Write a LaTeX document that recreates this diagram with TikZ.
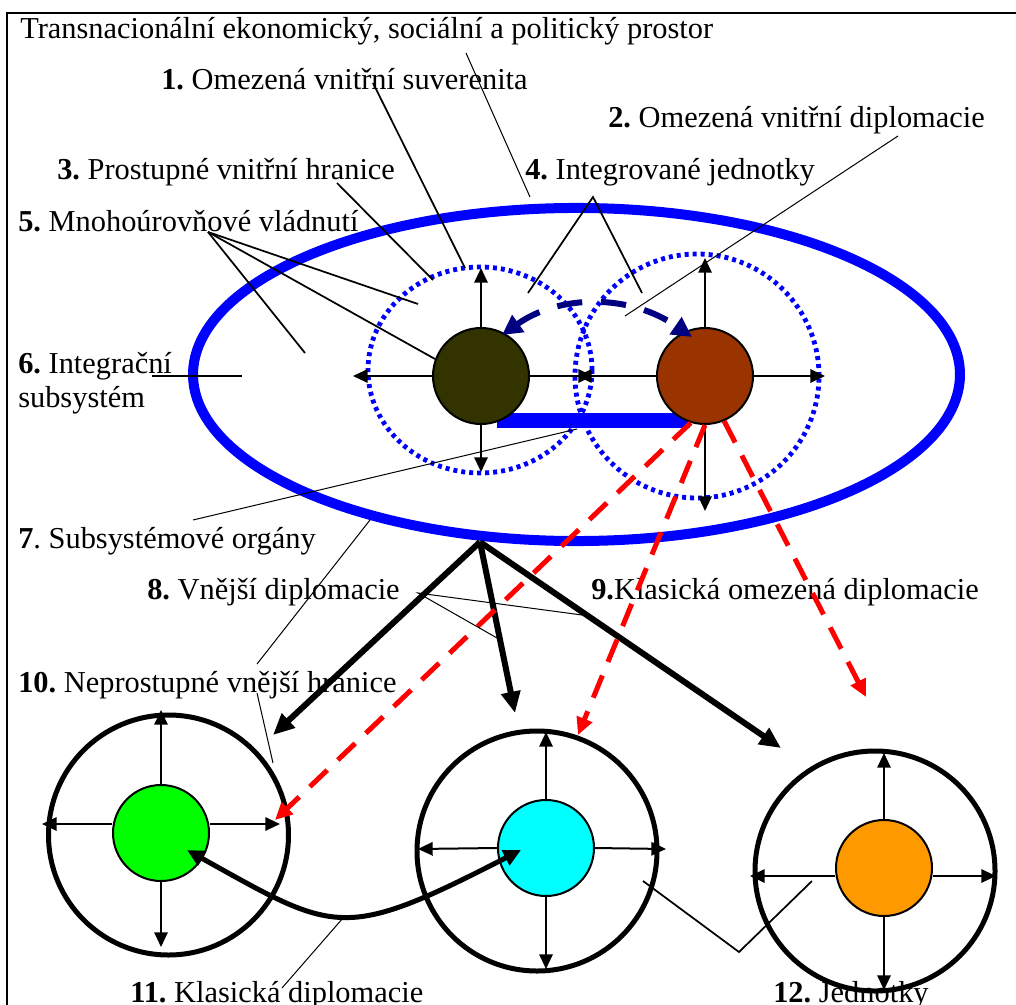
\documentclass[tikz,border=0pt]{standalone}
\usepackage{fontspec}
\setmainfont{Liberation Serif}
\usetikzlibrary{arrows.meta}
\definecolor{olv}{RGB}{51,51,0}
\definecolor{brn}{RGB}{153,51,0}
\definecolor{nvy}{RGB}{0,0,128}
\definecolor{grn}{RGB}{0,255,0}
\definecolor{cyn}{RGB}{0,255,255}
\definecolor{orn}{RGB}{255,153,0}
\frenchspacing
\begin{document}
\begin{tikzpicture}[x=0.75pt,y=-0.75pt,
  txt/.style={anchor=base west, inner sep=0pt, font=\fontsize{22.8}{26}\selectfont},
  smallc/.style={circle, draw=black, line width=1.5pt, minimum size=72pt, inner sep=0pt},
  unitc/.style={circle, draw=black, line width=3.75pt, minimum size=180pt, inner sep=0pt},
  uarr/.style={line width=1.5pt, -{Triangle[length=11pt,width=10pt]}},
  thk/.style={line width=4.5pt, -{Triangle[length=16pt,width=14pt]}},
  reda/.style={red, line width=3.75pt, dash pattern=on 18pt off 11pt, -{Triangle[length=13pt,width=12pt]}},
  navya/.style={nvy, line width=4.5pt, dash pattern=on 19pt off 14pt, {Triangle[length=15pt,width=15pt]}-{Triangle[length=15pt,width=15pt]}},
  dotc/.style={blue, line width=3.6pt, dash pattern=on 3pt off 3pt},
  lnA/.style={line width=0.75pt},
  lnB/.style={line width=1.3pt},
  curv/.style={line width=3.75pt, {Triangle[length=13pt,width=12pt]}-{Triangle[length=13pt,width=12pt]}}
]
\path[use as bounding box, clip] (0,0) rectangle (1016,1005);
% frame
\draw[line width=2pt] (7,1040) -- (7,13) -- (1040,13);

% texts
\node[txt] (t0) at (20,39) {Transnacionální ekonomický, sociální a politický prostor};
\node[txt] (t1) at (161,90) {\textbf{1.} Omezená vnitřní suverenita};
\node[txt] (t2) at (608,128) {\textbf{2.} Omezená vnitřní diplomacie};
\node[txt] (t3) at (57,180) {\textbf{3.} Prostupné vnitřní hranice};
\node[txt] (t4) at (525,180) {\textbf{4.} Integrované jednotky};
\node[txt] (t5) at (18,232) {\textbf{5.} Mnohoúrovňové vládnutí};
\node[txt] (t6) at (18,373) {\textbf{6.} Integrační};
\node[txt] (t6b) at (18,407) {subsystém};
\node[txt] (t7) at (18,548) {\textbf{7}. Subsystémové orgány};
\node[txt] (t8) at (147,599) {\textbf{8.} Vnější diplomacie};
\node[txt] (t9) at (591,599) {\textbf{9.}Klasická omezená diplomacie};
\node[txt] (t10) at (18,692) {\textbf{10.} Neprostupné vnější hranice};
\node[txt] (t11) at (130,1002) {\textbf{11.} Klasická diplomacie};
\node[txt] (t12) at (773,1002) {\textbf{12.} Jednotky};

% integration subsystem
\draw[blue, line width=7.5pt] (576.5,374.5) ellipse [x radius=287.6pt, y radius=124.9pt];
\draw[dotc] (480,370) ellipse [x radius=84pt, y radius=77.25pt];
\draw[dotc] (697,376) ellipse [x radius=91.5pt, y radius=91.5pt];
\fill[blue] (497,413) rectangle (690,428);

\node[smallc, fill=olv] (d) at (481,376) {};
\node[smallc, fill=brn] (b) at (705,376) {};

\coordinate (du) at (481,268);
\coordinate (dl) at (353,376);
\coordinate (dd) at (481,472);
\coordinate (dr) at (593,376);
\coordinate (bu) at (705,258);
\coordinate (br) at (825,376);
\coordinate (bd) at (705,511);
\coordinate (bl) at (577,376);
\draw[uarr] (d.north) -- (du);
\draw[uarr] (d.west) -- (dl);
\draw[uarr] (d.south) -- (dd);
\draw[uarr] (d.east) -- (dr);
\draw[uarr] (b.north) -- (bu);
\draw[uarr] (b.east) -- (br);
\draw[uarr] (b.south) -- (bd);
\draw[uarr] (b.west) -- (bl);

% navy internal diplomacy
\coordinate (nl) at (502,335);
\coordinate (nr) at (692,337);
\draw[navya] (nl) .. controls (560,294) and (630,294) .. (nr);

% units
\node[unitc] (G) at (168.5,835) {};
\node[unitc] (C) at (537,851) {};
\node[unitc] (O) at (875,871) {};
\node[smallc, fill=grn] (g) at (161,833) {};
\node[smallc, fill=cyn] (c) at (546,848) {};
\node[smallc, fill=orn] (o) at (884,868) {};

\coordinate (gu) at (161,710);
\coordinate (gl) at (42,824);
\coordinate (gr) at (280,824);
\coordinate (gd) at (161,947);
\draw[uarr] (g.north) -- (gu);
\draw[uarr] ([yshift=6.75pt]g.west) -- (gl);
\draw[uarr] ([yshift=6.75pt]g.east) -- (gr);
\draw[uarr] (g.south) -- (gd);

\coordinate (cu) at (546,732);
\coordinate (cl) at (418,849);
\coordinate (cr) at (666,849);
\coordinate (cd) at (546,969);
\draw[uarr] (c.north) -- (cu);
\draw[uarr] (c.west) -- (cl);
\draw[uarr] (c.east) -- (cr);
\draw[uarr] (c.south) -- (cd);

\coordinate (ou) at (884,753);
\coordinate (ol) at (750,876);
\coordinate (or) at (996,876);
\coordinate (od) at (884,990);
\draw[uarr] (o.north) -- (ou);
\draw[uarr] ([yshift=-6pt]o.west) -- (ol);
\draw[uarr] ([yshift=-6pt]o.east) -- (or);
\draw[uarr] (o.south) -- (od);

% external diplomacy (thick black)
\coordinate (eb) at (480,542);
\coordinate (e1) at (273,735);
\coordinate (e2) at (515,713);
\coordinate (e3) at (781,748);
\draw[thk] (eb) -- (e1);
\draw[thk] (eb) -- (e2);
\draw[thk] (eb) -- (e3);

% classic limited diplomacy (red dashed)
\coordinate (r1) at (275,820);
\coordinate (r2) at (578,735);
\coordinate (r3) at (866,697);
\draw[reda] (b.253) -- (r1);
\draw[reda] (b.south) -- (r2);
\draw[reda] (b.293) -- (r3);

% classic diplomacy curve
\coordinate (k1) at (187,850);
\coordinate (k2) at (521,850);
\draw[curv] (k1) .. controls (336,933) and (342,942) .. (k2);

% label lines
\coordinate (a0) at (466,53);   \coordinate (a0e) at (530,197);
\draw[lnA] (a0) -- (a0e);
\coordinate (a1) at (373,83);   \coordinate (a1e) at (465,268);
\draw[lnB] (a1) -- (a1e);
\coordinate (a2) at (898,136);  \coordinate (a2e) at (625,316);
\draw[lnA] (a2) -- (a2e);
\coordinate (a3) at (337,183);  \coordinate (a3e) at (433,280);
\draw[lnB] (a3) -- (a3e);
\coordinate (a4) at (593,197);
\coordinate (a4a) at (528,293); \coordinate (a4b) at (642,293);
\draw[lnB] (a4a) -- (a4) -- (a4b);
\coordinate (a5) at (208,232);
\coordinate (a5a) at (418,304); \coordinate (a5b) at (435,359); \coordinate (a5c) at (305,353);
\draw[lnB] (a5) -- (a5a);
\draw[lnB] (a5) -- (a5b);
\draw[lnB] (a5) -- (a5c);
\coordinate (a6) at (152,376);  \coordinate (a6e) at (242,376);
\draw[lnB] (a6) -- (a6e);
\coordinate (a7) at (193,520);  \coordinate (a7e) at (577,429);
\draw[lnA] (a7) -- (a7e);
\coordinate (a8) at (418,593);
\coordinate (a8a) at (497,638); \coordinate (a8b) at (582,615);
\draw[lnA] (a8a) -- (a8) -- (a8b);
\coordinate (a10a) at (257,664); \coordinate (a10ae) at (370,520);
\draw[lnA] (a10a) -- (a10ae);
\coordinate (a10b) at (257,693); \coordinate (a10be) at (273,763);
\draw[lnA] (a10b) -- (a10be);
\coordinate (a11) at (282,988); \coordinate (a11e) at (343,918);
\draw[lnA] (a11) -- (a11e);
\coordinate (a12a) at (643,881); \coordinate (a12) at (739,952); \coordinate (a12b) at (812,881);
\draw[lnB] (a12a) -- (a12) -- (a12b);
\end{tikzpicture}
\end{document}
